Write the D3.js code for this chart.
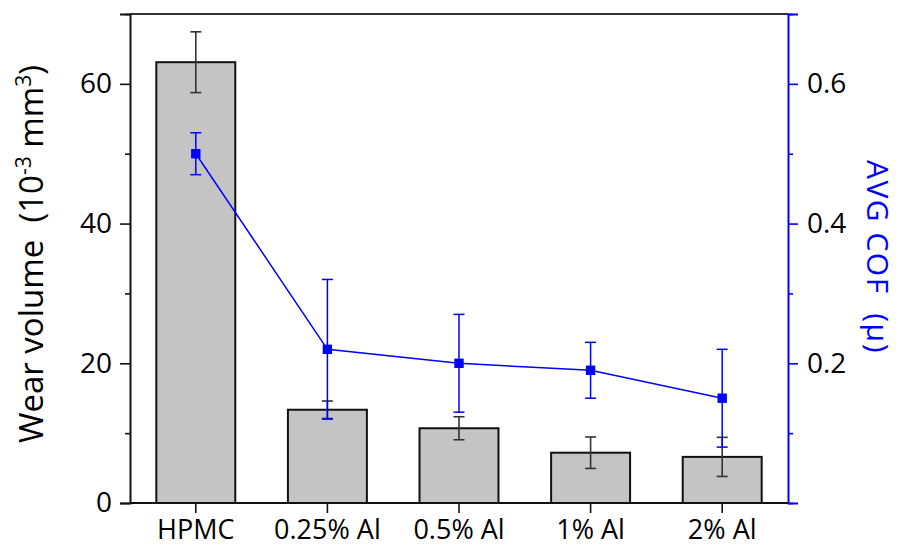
<!DOCTYPE html>
<html>
<head>
<meta charset="utf-8">
<script src="https://cdn.jsdelivr.net/npm/d3@7/dist/d3.min.js"></script>
<style>
  body { margin: 0; background: #fff; }
  svg { display: block; }
  text { font-family: "Open Sans", sans-serif; white-space: pre; }
</style>
</head>
<body>
<svg id="chart" width="898" height="549"></svg>
<script>
const categories = ["HPMC", "0.25% Al", "0.5% Al", "1% Al", "2% Al"];
const wearVolume = [63.1, 13.35, 10.7, 7.2, 6.6];
const wearError = [4.35, 1.25, 1.65, 2.25, 2.8];
const cof = [0.50, 0.22, 0.20, 0.19, 0.15];
const cofError = [0.03, 0.10, 0.07, 0.04, 0.07];
const leftMajorTicks = [0, 20, 40, 60];
const leftMinorTicks = [10, 30, 50, 70];
const rightMajorTicks = [0.2, 0.4, 0.6];
const rightMinorTicks = [0, 0.1, 0.3, 0.5, 0.7];

const svg = d3.select("#chart");
const L = 130, R = 788, T = 14, B = 503;
const blue = "#0000ff";

const x = d3.scaleBand().domain(categories).range([L, R]).padding(0);
const y = d3.scaleLinear().domain([0, 70]).range([B, T]);
const y2 = d3.scaleLinear().domain([0, 0.7]).range([B, T]);
const barW = x.bandwidth() * 0.6;
const cx = d => x(d) + x.bandwidth() / 2;

// bars
svg.append("g").selectAll("rect").data(categories).join("rect")
  .attr("x", d => cx(d) - barW / 2)
  .attr("y", (d, i) => y(wearVolume[i]))
  .attr("width", barW)
  .attr("height", (d, i) => y(0) - y(wearVolume[i]))
  .attr("fill", "#c4c4c4")
  .attr("stroke", "#111")
  .attr("stroke-width", 2);

// black error bars
const eb = svg.append("g").attr("stroke", "#333").attr("stroke-width", 1.6);
categories.forEach((c, i) => {
  const xc = cx(c), hi = y(wearVolume[i] + wearError[i]), lo = y(wearVolume[i] - wearError[i]);
  eb.append("line").attr("x1", xc).attr("x2", xc).attr("y1", hi).attr("y2", lo);
  eb.append("line").attr("x1", xc - 5.5).attr("x2", xc + 5.5).attr("y1", hi).attr("y2", hi);
  eb.append("line").attr("x1", xc - 5.5).attr("x2", xc + 5.5).attr("y1", lo).attr("y2", lo);
});

// COF line
svg.append("path")
  .datum(categories)
  .attr("fill", "none")
  .attr("stroke", blue)
  .attr("stroke-width", 1.5)
  .attr("d", d3.line().x(d => cx(d)).y((d, i) => y2(cof[i])));

// blue error bars
const be = svg.append("g").attr("stroke", blue).attr("stroke-width", 1.5);
categories.forEach((c, i) => {
  const xc = cx(c), hi = y2(cof[i] + cofError[i]), lo = y2(cof[i] - cofError[i]);
  be.append("line").attr("x1", xc).attr("x2", xc).attr("y1", hi).attr("y2", lo);
  be.append("line").attr("x1", xc - 5.5).attr("x2", xc + 5.5).attr("y1", hi).attr("y2", hi);
  be.append("line").attr("x1", xc - 5.5).attr("x2", xc + 5.5).attr("y1", lo).attr("y2", lo);
});

// markers
svg.append("g").selectAll("rect").data(categories).join("rect")
  .attr("x", d => cx(d) - 4.7)
  .attr("y", (d, i) => y2(cof[i]) - 4.7)
  .attr("width", 9.4).attr("height", 9.4)
  .attr("fill", blue);

// top border
svg.append("line").attr("x1", L).attr("x2", R).attr("y1", T).attr("y2", T)
  .attr("stroke", "#333").attr("stroke-width", 2);

function styleAxis(g, color, fs) {
  g.select(".domain").attr("stroke", color).attr("stroke-width", 2);
  g.selectAll(".tick line").attr("stroke", color).attr("stroke-width", 1.6);
  g.selectAll(".tick text").attr("fill", "#000").style("font-size", fs + "px")
    .style("font-family", "'Open Sans', sans-serif");
}

// left axis
const gl = svg.append("g").attr("transform", `translate(${L},0)`)
  .call(d3.axisLeft(y).tickValues(leftMajorTicks).tickSize(10).tickPadding(8).tickFormat(d3.format("d")));
styleAxis(gl, "#111", 28);
const glm = svg.append("g").attr("transform", `translate(${L},0)`)
  .call(d3.axisLeft(y).tickValues(leftMinorTicks).tickSize(5).tickFormat(""));
styleAxis(glm, "#111", 28);
glm.select(".domain").remove();

// right axis
const gr = svg.append("g").attr("transform", `translate(${R},0)`)
  .call(d3.axisRight(y2).tickValues(rightMajorTicks).tickSize(10).tickPadding(9).tickFormat(d3.format(".1f")));
styleAxis(gr, blue, 28);
const grm = svg.append("g").attr("transform", `translate(${R},0)`)
  .call(d3.axisRight(y2).tickValues(rightMinorTicks).tickSize(5).tickFormat(""));
styleAxis(grm, blue, 28);
grm.select(".domain").remove();

// bottom axis
const gb = svg.append("g").attr("transform", `translate(0,${B})`)
  .call(d3.axisBottom(x).tickSize(10).tickPadding(7).tickSizeOuter(0));
styleAxis(gb, "#111", 27);
gb.select(".domain").attr("d", `M${L},0H${R}`);

// left title
const lt = svg.append("text")
  .attr("transform", `translate(43,254) rotate(-90)`)
  .attr("text-anchor", "middle")
  .style("font-size", "33px")
  .attr("fill", "#000");
lt.append("tspan").text("Wear volume  (10");
lt.append("tspan").attr("dy", -12).style("font-size", "21px").text("-3");
lt.append("tspan").attr("dy", 12).text(" mm");
lt.append("tspan").attr("dy", -12).style("font-size", "21px").text("3");
lt.append("tspan").attr("dy", 12).text(")");

// right title
svg.append("text")
  .attr("transform", `translate(867,257) rotate(90)`)
  .attr("text-anchor", "middle")
  .style("font-size", "30px")
  .style("letter-spacing", "1.5px")
  .attr("fill", blue)
  .text("AVG COF  (\u03bc)");
</script>
</body>
</html>
